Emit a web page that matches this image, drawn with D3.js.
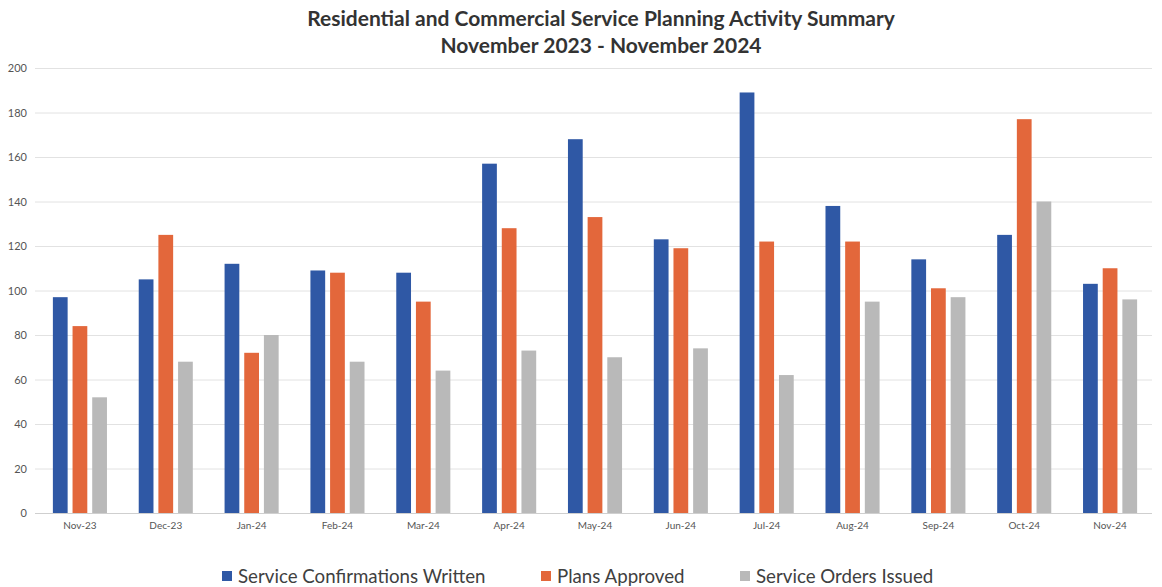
<!DOCTYPE html>
<html>
<head>
<meta charset="utf-8">
<script src="https://cdn.jsdelivr.net/npm/d3@7"></script>
<style>
  html, body { margin: 0; padding: 0; background: #ffffff; }
  svg { display: block; }
</style>
</head>
<body>
<svg id="chart" width="1162" height="587"></svg>
<script>
const months = ["Nov-23","Dec-23","Jan-24","Feb-24","Mar-24","Apr-24","May-24","Jun-24","Jul-24","Aug-24","Sep-24","Oct-24","Nov-24"];
const seriesNames = ["Service Confirmations Written","Plans Approved","Service Orders Issued"];
const confirmationsWritten = [97,105,112,109,108,157,168,123,189,138,114,125,103];
const plansApproved = [84,125,72,108,95,128,133,119,122,122,101,177,110];
const ordersIssued = [52,68,80,68,64,73,70,74,62,95,97,140,96];
const yTicks = [0,20,40,60,80,100,120,140,160,180,200];
const titleLines = ["Residential and Commercial Service Planning Activity Summary","November 2023 - November 2024"];
const colors = ["#2f58a5","#e3673b","#b9b9b9"];

const seriesValues = [confirmationsWritten, plansApproved, ordersIssued];
const data = months.map((m, i) => ({month: m, values: seriesNames.map((s, j) => ({series: s, idx: j, value: seriesValues[j][i]}))}));

const svg = d3.select("#chart");
const plotLeft = 37, plotRight = 1153, plotTop = 68, plotBottom = 513;

const x0 = d3.scaleBand().domain(months).range([plotLeft, plotRight]).paddingInner(0.37).paddingOuter(0.185);
const x1 = d3.scaleBand().domain(seriesNames).range([0, x0.bandwidth()]).paddingInner(0.25);
const y = d3.scaleLinear().domain([0, 200]).range([plotBottom, plotTop]);

// gridlines
svg.append("g")
  .selectAll("line")
  .data(yTicks.filter(t => t > 0))
  .join("line")
  .attr("x1", 35).attr("x2", 1152)
  .attr("y1", d => y(d) + 0.5).attr("y2", d => y(d) + 0.5)
  .attr("stroke", "#e2e2e2").attr("stroke-width", 1);

// y axis labels
const yAxis = d3.axisLeft(y).tickValues(yTicks).tickSize(0).tickPadding(0);
const gy = svg.append("g").attr("transform", "translate(27,0)").call(yAxis);
gy.select(".domain").remove();
gy.selectAll("text").attr("font-family", "Lato, 'Open Sans', sans-serif").attr("font-size", 11).attr("fill", "#555");

// bars
const groups = svg.append("g").selectAll("g").data(data).join("g")
  .attr("transform", d => `translate(${x0(d.month)},0)`);
groups.selectAll("rect").data(d => d.values).join("rect")
  .attr("x", d => x1(d.series))
  .attr("width", x1.bandwidth())
  .attr("y", d => y(d.value))
  .attr("height", d => y(0) - y(d.value))
  .attr("fill", d => colors[d.idx]);

// x axis
const xAxis = d3.axisBottom(x0).tickSize(0).tickPadding(9);
const gx = svg.append("g").attr("transform", `translate(0,${plotBottom})`).call(xAxis);
gx.select(".domain").attr("stroke", "#cfcfcf").attr("d", `M35,0.5H1152`);
gx.selectAll("text").attr("font-family", "Lato, 'Open Sans', sans-serif").attr("font-size", 10).attr("fill", "#555");

// title
svg.append("g").selectAll("text").data(titleLines).join("text")
  .attr("x", 601).attr("y", (d, i) => 26 + i * 27)
  .attr("text-anchor", "middle")
  .attr("font-family", "Lato, 'Open Sans', sans-serif")
  .attr("font-weight", "bold")
  .attr("font-size", 21)
  .attr("fill", "#333")
  .text(d => d);

// legend
const legendX = [222, 541, 740];
const lg = svg.append("g").selectAll("g").data(seriesNames).join("g")
  .attr("transform", (d, i) => `translate(${legendX[i]},571)`);
lg.append("rect").attr("x", 0).attr("y", 0).attr("width", 10).attr("height", 10).attr("fill", (d, i) => colors[i]);
lg.append("text").attr("x", 16).attr("y", 11.5)
  .attr("font-family", "Lato, 'Open Sans', sans-serif")
  .attr("font-size", 18.7).attr("fill", "#404040")
  .text(d => d);
</script>
</body>
</html>
